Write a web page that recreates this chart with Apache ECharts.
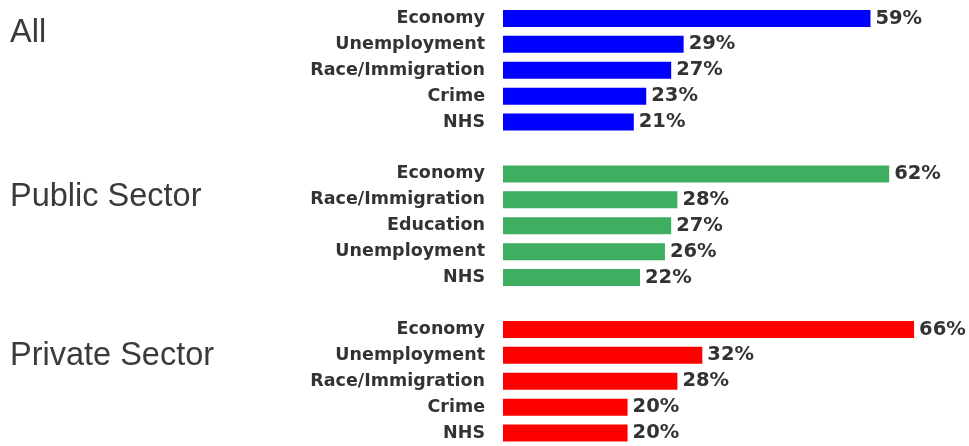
<!DOCTYPE html>
<html>
<head>
<meta charset="utf-8">
<style>
  html, body { margin: 0; padding: 0; background: #ffffff; }
  #chart { width: 969px; height: 446px; }
</style>
<script src="https://cdn.jsdelivr.net/npm/echarts@6/dist/echarts.min.js"></script>
</head>
<body>
<div id="chart"></div>
<script>
// Most important issues, by group (percent of respondents)
const groupNames = ['All', 'Public Sector', 'Private Sector'];

const allIssues = ['Economy', 'Unemployment', 'Race/Immigration', 'Crime', 'NHS'];
const allValues = [59, 29, 27, 23, 21];

const publicIssues = ['Economy', 'Race/Immigration', 'Education', 'Unemployment', 'NHS'];
const publicValues = [62, 28, 27, 26, 22];

const privateIssues = ['Economy', 'Unemployment', 'Race/Immigration', 'Crime', 'NHS'];
const privateValues = [66, 32, 28, 20, 20];

const groupColors = ['#0000ff', '#3fae60', '#ff0000'];

const issueLists = [allIssues, publicIssues, privateIssues];
const valueLists = [allValues, publicValues, privateValues];

// Panel layout: each group gets its own grid, stacked vertically
const gridTops = [5.5, 161, 316.5];
const gridHeight = 129.5;
const titleCenters = [35, 199, 358];

const chart = echarts.init(document.getElementById('chart'), null, { renderer: 'canvas' });

const grids = [], xAxes = [], yAxes = [], series = [], graphics = [];

groupNames.forEach((name, i) => {
  grids.push({ left: 503, right: 30, top: gridTops[i], height: gridHeight, containLabel: false });
  xAxes.push({
    type: 'value', gridIndex: i, min: 0, max: 70,
    show: false
  });
  yAxes.push({
    type: 'category', gridIndex: i, inverse: true,
    data: issueLists[i],
    axisLine: { show: false }, axisTick: { show: false }, splitLine: { show: false },
    axisLabel: {
      margin: 18,
      color: '#333333',
      fontFamily: 'DejaVu Sans',
      fontWeight: 'bold',
      fontSize: 17.5
    }
  });
  series.push({
    type: 'bar', xAxisIndex: i, yAxisIndex: i,
    data: valueLists[i],
    barWidth: 17,
    itemStyle: { color: groupColors[i] },
    label: {
      show: true, position: 'right', distance: 5,
      formatter: '{c}%',
      color: '#333333',
      fontFamily: 'DejaVu Sans',
      fontWeight: 'bold',
      fontSize: 19.5
    },
    silent: true,
    animation: false
  });
  graphics.push({
    type: 'text', left: 10, top: titleCenters[i] - 18,
    style: {
      text: name,
      fill: '#3a3a3a',
      font: '32.5px "Liberation Sans", Arial, sans-serif'
    }
  });
});

chart.setOption({
  backgroundColor: '#ffffff',
  animation: false,
  grid: grids,
  xAxis: xAxes,
  yAxis: yAxes,
  series: series,
  graphic: graphics
});
</script>
</body>
</html>
